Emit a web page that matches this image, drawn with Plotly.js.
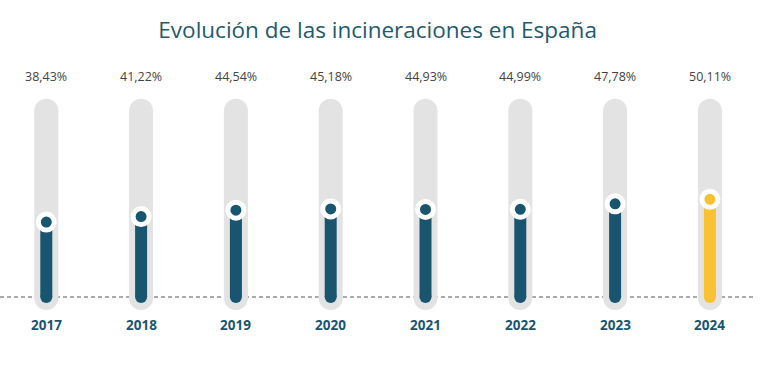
<!DOCTYPE html>
<html>
<head>
<meta charset="utf-8">
<script src="https://cdn.plot.ly/plotly-3.0.1.min.js"></script>
<style>html,body{margin:0;padding:0;background:#fff;}#chart{width:766px;height:374px;}</style>
</head>
<body>
<div id="chart"></div>
<script>
const years = ['2017','2018','2019','2020','2021','2022','2023','2024'];
const values = [38.43, 41.22, 44.54, 45.18, 44.93, 44.99, 47.78, 50.11];
const labels = ['38,43%','41,22%','44,54%','45,18%','44,93%','44,99%','47,78%','50,11%'];
const highlightYear = '2024';

const TRACK_LO = -0.5, TRACK_HI = 95.5;
const DARK = '#1a5570', YELLOW = '#f8c233', GREY = '#e3e3e3';

const traces = [];
// grey tracks
const tx = [], ty = [];
years.forEach((y, i) => { tx.push(i, i, null); ty.push(TRACK_LO, TRACK_HI, null); });
traces.push({x: tx, y: ty, mode: 'lines+markers', line: {color: GREY, width: 24},
  marker: {color: GREY, size: 24}, hoverinfo: 'skip', showlegend: false, connectgaps: false});
// value bars
years.forEach((y, i) => {
  const c = y === highlightYear ? YELLOW : DARK;
  traces.push({x: [i, i], y: [0, values[i]], mode: 'lines+markers',
    line: {color: c, width: 12}, marker: {color: c, size: 12}, hoverinfo: 'skip', showlegend: false});
});
// dots
traces.push({x: years.map((y, i) => i), y: values, mode: 'markers',
  marker: {color: years.map(y => y === highlightYear ? YELLOW : DARK), size: 16, line: {color: '#ffffff', width: 5}},
  hoverinfo: 'skip', showlegend: false});

const annotations = [];
years.forEach((y, i) => {
  annotations.push({x: i, xref: 'x', y: 1 - 76/374, yref: 'paper', text: labels[i], showarrow: false,
    font: {family: 'Open Sans', size: 12.5, color: '#444444'}, xanchor: 'center', yanchor: 'middle'});
  annotations.push({x: i, xref: 'x', y: 1 - 325/374, yref: 'paper', text: '<b>' + y + '</b>', showarrow: false,
    font: {family: 'Open Sans', size: 13.5, color: DARK}, xanchor: 'center', yanchor: 'middle'});
});

const pxPerX = 94.8, x0 = 46.3;
const y0px = 297, pxPerY = 1.95;
const layout = {
  width: 766, height: 374,
  margin: {l: 0, r: 0, t: 0, b: 0},
  paper_bgcolor: '#ffffff', plot_bgcolor: '#ffffff',
  title: {text: 'Evolución de las incineraciones en España', x: 0.493, xanchor: 'center', y: 1 - 30/374, yanchor: 'middle',
    font: {family: 'Open Sans', size: 22.5, color: '#1f5a6e'}},
  xaxis: {range: [-x0/pxPerX, (766 - x0)/pxPerX], visible: false, fixedrange: true},
  yaxis: {range: [-(374 - y0px)/pxPerY, y0px/pxPerY], visible: false, fixedrange: true},
  shapes: [{type: 'line', xref: 'paper', x0: 0, x1: 754/766, yref: 'y', y0: 0, y1: 0,
    line: {color: '#555555', width: 1, dash: '4px,3px'}, layer: 'below'}],
  annotations: annotations,
  showlegend: false
};
Plotly.newPlot('chart', traces, layout, {displayModeBar: false, staticPlot: true});
</script>
</body>
</html>
